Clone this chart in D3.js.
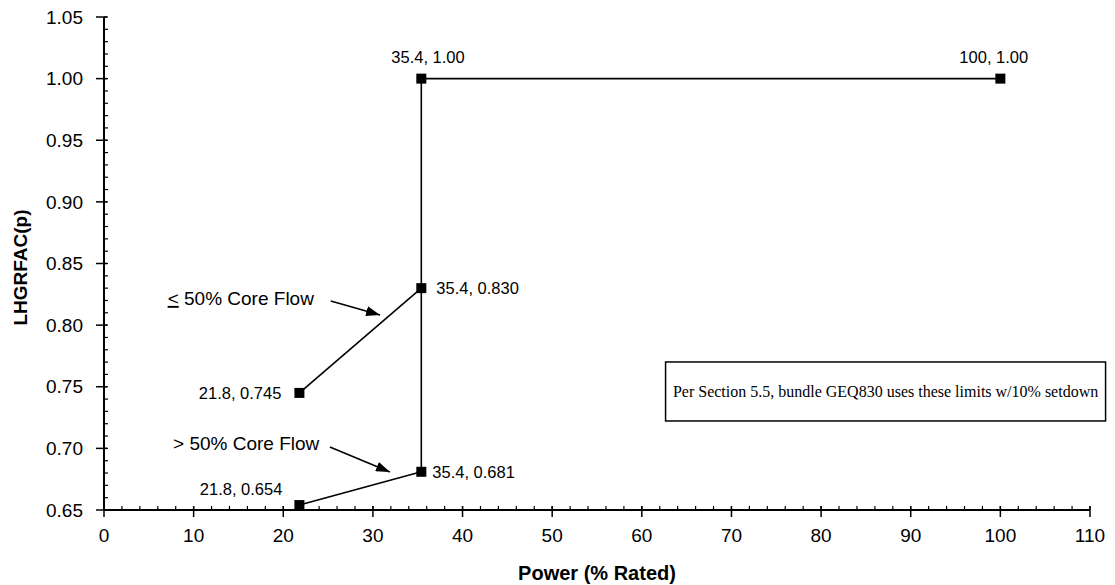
<!DOCTYPE html>
<html>
<head>
<meta charset="utf-8">
<script src="https://cdn.jsdelivr.net/npm/d3@7"></script>
<style>
  body { margin: 0; background: #fff; }
  svg { display: block; }
</style>
</head>
<body>
<svg id="chart" width="1115" height="585"></svg>
<script>
// Axis ticks
const xMajorTicks = [0, 10, 20, 30, 40, 50, 60, 70, 80, 90, 100, 110];
const xMinorTicks = d3.range(0, 110.001, 2);
const yMajorTicks = [0.65, 0.70, 0.75, 0.80, 0.85, 0.90, 0.95, 1.00, 1.05];
const yMinorTicks = d3.range(65, 105.001, 1).map(v => v / 100);

// LHGRFAC(p) limit lines
const lowFlowPower = [21.8, 35.4];     // <= 50% core flow
const lowFlowLimit = [0.745, 0.830];
const highFlowPower = [21.8, 35.4];    // > 50% core flow
const highFlowLimit = [0.654, 0.681];
const fullPower = [35.4, 35.4, 100];   // above the power threshold
const fullLimit = [0.681, 1.00, 1.00];

// Labelled break points
const pointPower = [35.4, 100, 35.4, 21.8, 21.8, 35.4];
const pointLimit = [1.00, 1.00, 0.830, 0.745, 0.654, 0.681];

const xTitle = "Power (% Rated)";
const yTitle = "LHGRFAC(p)";
const noteText = "Per Section 5.5, bundle GEQ830 uses these limits w/10% setdown";
const lowFlowText = "50% Core Flow";
const highFlowText = "> 50% Core Flow";

const svg = d3.select("#chart");
const sans = "'Liberation Sans', Arial, Helvetica, sans-serif";
const serif = "'Liberation Serif', 'Times New Roman', serif";

const x = d3.scaleLinear().domain([0, 110]).range([104, 1090]);
const y = d3.scaleLinear().domain([0.65, 1.05]).range([510, 17]);

const x0 = x(0), y0 = y(0.65);

// Axes
const axes = svg.append("g").attr("stroke", "#000");
axes.append("line").attr("x1", x0).attr("x2", x(110)).attr("y1", y0).attr("y2", y0).attr("stroke-width", 2);
axes.append("line").attr("x1", x0).attr("x2", x0).attr("y1", y0).attr("y2", y(1.05)).attr("stroke-width", 2);

axes.selectAll(".xminor").data(xMinorTicks).join("line")
  .attr("x1", d => x(d)).attr("x2", d => x(d))
  .attr("y1", y0).attr("y2", y0 - 4).attr("stroke-width", 1.2);
axes.selectAll(".xmajor").data(xMajorTicks).join("line")
  .attr("x1", d => x(d)).attr("x2", d => x(d))
  .attr("y1", y0 - 4).attr("y2", y0 + 7).attr("stroke-width", 1.5);
axes.selectAll(".yminor").data(yMinorTicks).join("line")
  .attr("x1", x0).attr("x2", x0 + 4)
  .attr("y1", d => y(d)).attr("y2", d => y(d)).attr("stroke-width", 1.2);
axes.selectAll(".ymajor").data(yMajorTicks).join("line")
  .attr("x1", x0 - 8).attr("x2", x0 + 3)
  .attr("y1", d => y(d)).attr("y2", d => y(d)).attr("stroke-width", 1.5);

// Tick labels
svg.append("g").selectAll("text").data(xMajorTicks).join("text")
  .attr("x", d => x(d)).attr("y", y0 + 32)
  .attr("text-anchor", "middle")
  .attr("font-family", sans).attr("font-size", 19)
  .text(d => d);
svg.append("g").selectAll("text").data(yMajorTicks).join("text")
  .attr("x", x0 - 21).attr("y", d => y(d)).attr("dy", "0.35em")
  .attr("text-anchor", "end")
  .attr("font-family", sans).attr("font-size", 19)
  .text(d => d3.format(".2f")(d));

// Axis titles
svg.append("text")
  .attr("x", (x0 + x(110)) / 2).attr("y", 580)
  .attr("text-anchor", "middle")
  .attr("font-family", sans).attr("font-size", 20).attr("font-weight", "bold")
  .text(xTitle);
svg.append("text")
  .attr("transform", `translate(27,${(y(0.65) + y(1.05)) / 2 + 4}) rotate(-90)`)
  .attr("text-anchor", "middle")
  .attr("font-family", sans).attr("font-size", 19).attr("font-weight", "bold")
  .text(yTitle);

// Limit lines
const line = d3.line().x(d => x(d[0])).y(d => y(d[1]));
const series = [
  d3.zip(lowFlowPower, lowFlowLimit),
  d3.zip(highFlowPower, highFlowLimit),
  d3.zip(fullPower, fullLimit)
];
svg.append("g").selectAll("path").data(series).join("path")
  .attr("d", line)
  .attr("fill", "none").attr("stroke", "#000").attr("stroke-width", 1.6);

// Break-point markers
const points = d3.zip(pointPower, pointLimit);
svg.append("g").selectAll("rect").data(points).join("rect")
  .attr("x", d => x(d[0]) - 5).attr("y", d => y(d[1]) - 5)
  .attr("width", 10).attr("height", 10).attr("fill", "#000");

// Point labels: "power, limit"
const fmtPower = p => (Number.isInteger(p) ? String(p) : p.toFixed(1));
const fmtLimit = v => (v === 1 ? v.toFixed(2) : v.toFixed(3));
const labelPlacement = [
  { dx: -30, dy: -16, anchor: "start" },
  { dx: -41, dy: -16, anchor: "start" },
  { dx: 15, dy: 6, anchor: "start" },
  { dx: -18, dy: 6, anchor: "end" },
  { dx: -17, dy: -10, anchor: "end" },
  { dx: 11, dy: 6, anchor: "start" }
];
svg.append("g").selectAll("text").data(points).join("text")
  .attr("x", (d, i) => x(d[0]) + labelPlacement[i].dx)
  .attr("y", (d, i) => y(d[1]) + labelPlacement[i].dy)
  .attr("text-anchor", (d, i) => labelPlacement[i].anchor)
  .attr("font-family", sans).attr("font-size", 16.5)
  .text(d => `${fmtPower(d[0])}, ${fmtLimit(d[1])}`);

// Core flow callouts with arrows
const defs = svg.append("defs");
defs.append("marker")
  .attr("id", "arrowhead")
  .attr("viewBox", "0 0 14 10").attr("refX", 14).attr("refY", 5)
  .attr("markerWidth", 14).attr("markerHeight", 10)
  .attr("markerUnits", "userSpaceOnUse")
  .attr("orient", "auto")
  .append("path").attr("d", "M0,0 L14,5 L0,10 Z").attr("fill", "#000");

const lowLabel = svg.append("text")
  .attr("x", x(7.1)).attr("y", y(0.8164))
  .attr("font-family", sans).attr("font-size", 19);
lowLabel.append("tspan").attr("text-decoration", "underline").text("<");
lowLabel.append("tspan").text(" " + lowFlowText);

svg.append("text")
  .attr("x", x(7.7)).attr("y", y(0.6987))
  .attr("font-family", sans).attr("font-size", 19)
  .text(highFlowText);

const arrows = [
  [[25.3, 0.8196], [30.8, 0.8083]],
  [[25.2, 0.7011], [31.9, 0.6808]]
];
svg.append("g").selectAll("path").data(arrows).join("path")
  .attr("d", line)
  .attr("stroke", "#000").attr("stroke-width", 1.6).attr("fill", "none")
  .attr("marker-end", "url(#arrowhead)");

// Note box
const boxX = x(62.65), boxY = y(0.7701);
const boxW = 440, boxH = 59;
svg.append("rect")
  .attr("x", boxX).attr("y", boxY).attr("width", boxW).attr("height", boxH)
  .attr("fill", "#fff").attr("stroke", "#000").attr("stroke-width", 1.5);
svg.append("text")
  .attr("x", boxX + boxW / 2).attr("y", boxY + boxH / 2).attr("dy", "0.35em")
  .attr("text-anchor", "middle")
  .attr("font-family", serif).attr("font-size", 16)
  .text(noteText);
</script>
</body>
</html>
